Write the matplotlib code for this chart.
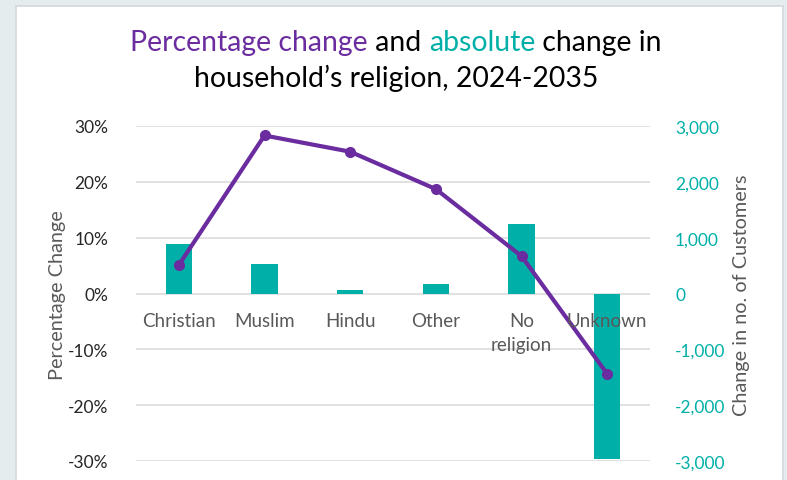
import matplotlib
matplotlib.use("Agg")
import matplotlib.pyplot as plt
from matplotlib.patches import Rectangle
from matplotlib.ticker import FuncFormatter, FixedLocator
import numpy as np

# ---- data ----
categories = ["Christian", "Muslim", "Hindu", "Other", "No\nreligion", "Unknown"]
pct_change = [5.1, 28.3, 25.4, 18.7, 6.7, -14.4]          # % change, left axis
abs_change = [890, 530, 55, 175, 1245, -2960]              # change in customers, right axis
pct_ticks = [-30, -20, -10, 0, 10, 20, 30]
abs_ticks = [-3000, -2000, -1000, 0, 1000, 2000, 3000]

PURPLE = "#6a2c9f"
TEAL = "#00b0a8"
GREY_TXT = "#595959"
GRID = "#d9d9d9"
FONT = "Lato"

plt.rcParams["font.family"] = [FONT, "DejaVu Sans"]

W, H, DPI = 787, 481, 100
fig = plt.figure(figsize=(W / DPI, H / DPI), dpi=DPI)
fig.patch.set_facecolor("#e4ecee")

# white card behind everything
fig.patches.append(Rectangle((16 / W, -0.01), (783 - 16) / W, (H - 7) / H + 0.01,
                             transform=fig.transFigure, facecolor="white",
                             edgecolor="#d4d8da", linewidth=1.2, zorder=-5))

left, right, top, bottom = 136, 650, 127, 462
ax2 = fig.add_axes([left / W, 1 - bottom / H, (right - left) / W, (bottom - top) / H])
ax = ax2.twinx()
# percentage axis on the left, customer counts on the right
ax.yaxis.tick_left()
ax.yaxis.set_label_position("left")
ax2.yaxis.tick_right()
ax2.yaxis.set_label_position("right")
ax2.set_zorder(1)
ax.set_zorder(2)
ax.patch.set_visible(False)
ax2.patch.set_visible(False)

x = np.arange(len(categories))

# bars (absolute change)
ax2.bar(x, abs_change, width=0.31, color=TEAL, zorder=2)
ax2.set_ylim(-3000, 3000)
ax2.yaxis.set_major_locator(FixedLocator(abs_ticks))
ax2.yaxis.set_major_formatter(FuncFormatter(lambda v, p: f"{int(v):,}"))
ax2.grid(axis="y", color=GRID, linewidth=1.1, zorder=0)
ax2.set_axisbelow(True)
ax2.tick_params(axis="y", colors=TEAL, labelsize=12.5, length=0, pad=18)
for lbl in ax2.get_yticklabels():
    lbl.set_horizontalalignment("left")
ax2.set_xticks([])
ax2.set_xlim(-0.5, len(categories) - 0.5)

# line (percentage change)
ax.plot(x, pct_change, color=PURPLE, linewidth=3.0, marker="o", markersize=7,
        solid_capstyle="round", zorder=3)
ax.set_ylim(-30, 30)
ax.yaxis.set_major_locator(FixedLocator(pct_ticks))
ax.yaxis.set_major_formatter(FuncFormatter(lambda v, p: f"{int(v)}%"))
ax.tick_params(axis="y", colors="#262626", labelsize=12.5, length=0, pad=20)
ax.set_xticks([])
ax.set_xlim(-0.5, len(categories) - 0.5)

for a in (ax, ax2):
    for s in a.spines.values():
        s.set_visible(False)

# category labels next to the zero line
for xi, cat in zip(x, categories):
    ax.annotate(cat, xy=(xi, 0), xytext=(0, -13), textcoords="offset points",
                ha="center", va="top", fontsize=13.5, color=GREY_TXT,
                linespacing=1.5, zorder=4)

# axis titles
fig.text(58 / W, 1 - 295 / H, "Percentage Change", rotation=90, ha="center",
         va="center", fontsize=14.3, color=GREY_TXT)
fig.text(742 / W, 1 - 295 / H, "Change in no. of Customers", rotation=90,
         ha="center", va="center", fontsize=14.3, color=GREY_TXT)

# two-colour title, built from pieces
title_size = 20.4
pieces = [("Percentage change", PURPLE), (" and ", "black"),
          ("absolute", TEAL), (" change in", "black")]
texts = [fig.text(0, 1 - 43 / H, s, color=c, fontsize=title_size,
                  ha="left", va="center") for s, c in pieces]
fig.canvas.draw()
r = fig.canvas.get_renderer()
widths = [t.get_window_extent(r).width for t in texts]
total = sum(widths)
xpos = 396 - total / 2
for t, w in zip(texts, widths):
    t.set_x(xpos / W)
    xpos += w
fig.text(396 / W, 1 - 78 / H, "household\u2019s religion, 2024-2035",
         color="black", fontsize=title_size, ha="center", va="center")

fig.savefig("out.png", dpi=DPI, facecolor=fig.get_facecolor())
